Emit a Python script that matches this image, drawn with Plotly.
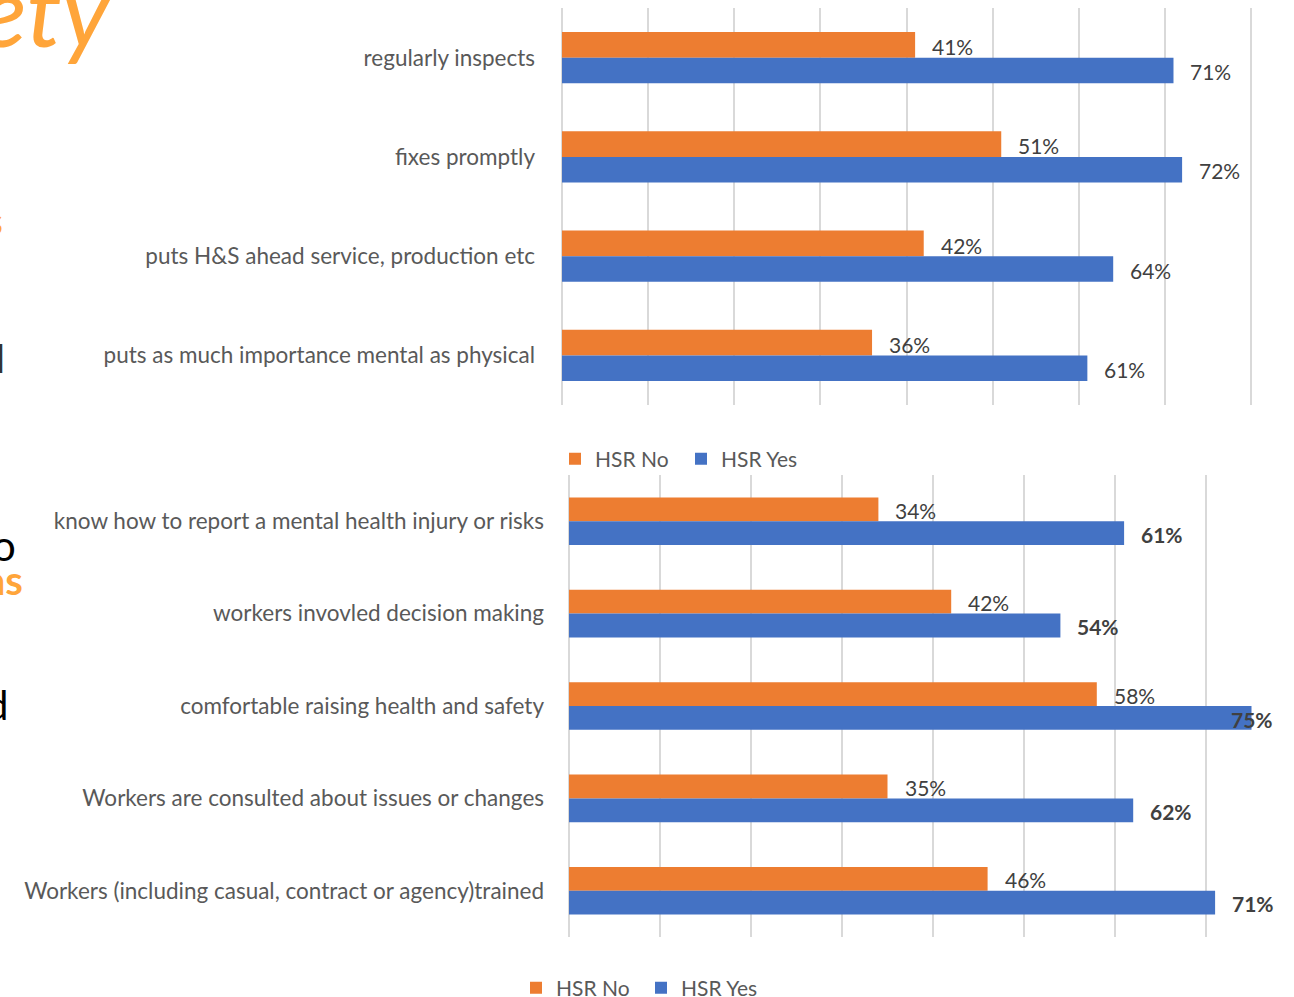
import plotly.graph_objects as go

# Survey results: share of workers agreeing, split by whether the workplace has an HSR
top_categories = [
    "regularly inspects",
    "fixes promptly",
    "puts H&S ahead service, production etc",
    "puts as much importance mental as physical",
]
top_hsr_no = [0.41, 0.51, 0.42, 0.36]
top_hsr_yes = [0.71, 0.72, 0.64, 0.61]

bottom_categories = [
    "know how to report a mental health injury or risks",
    "workers invovled decision making",
    "comfortable raising health and safety",
    "Workers are consulted about issues or changes",
    "Workers (including casual, contract or agency)trained",
]
bottom_hsr_no = [0.34, 0.42, 0.58, 0.35, 0.46]
bottom_hsr_yes = [0.61, 0.54, 0.75, 0.62, 0.71]

series_names = ["HSR No", "HSR Yes"]

W, H = 1294, 997
ORANGE = "#ED7D31"
BLUE = "#4472C4"
GRID = "#D9D9D9"
LABEL = "#595959"
VALUE = "#404040"
FONT = "Lato, Carlito, Calibri, sans-serif"

TOP_X0, TOP_PX = 562, 861.25      # left edge and pixels per 100% of the upper chart
BOT_X0, BOT_PX = 569, 910.0       # same for the lower chart


def py(px_from_top):
    """Pixel row measured from the top of the figure -> paper fraction."""
    return (H - px_from_top) / H


fig = go.Figure()

for cats, no_vals, yes_vals, xa, ya, lg in [
    (top_categories, top_hsr_no, top_hsr_yes, "x", "y", "legend"),
    (bottom_categories, bottom_hsr_no, bottom_hsr_yes, "x2", "y2", "legend2"),
]:
    for name, vals, col in [(series_names[0], no_vals, ORANGE), (series_names[1], yes_vals, BLUE)]:
        fig.add_trace(go.Bar(
            y=cats, x=vals, name=name, orientation="h",
            marker=dict(color=col, line=dict(width=0)),
            xaxis=xa, yaxis=ya, legend=lg, hoverinfo="skip",
        ))

annotations = []

# value labels next to the bar ends
def add_value_labels(cats, vals, xref, yref, yshift, bold, x0_px, px_per_unit):
    for c, v in zip(cats, vals):
        end_px = x0_px + v * px_per_unit
        fits = end_px + 15 + 42 <= W
        annotations.append(dict(
            x=v, y=c, xref=xref, yref=yref,
            text=f"<b>{round(v * 100)}%</b>" if bold else f"{round(v * 100)}%",
            showarrow=False,
            xanchor="left" if fits else "center",
            xshift=15 if fits else 0,
            yshift=yshift,
            font=dict(family=FONT, size=21, color=VALUE),
        ))

add_value_labels(top_categories, top_hsr_no, "x", "y", 11, False, TOP_X0, TOP_PX)
add_value_labels(top_categories, top_hsr_yes, "x", "y", -14, False, TOP_X0, TOP_PX)
add_value_labels(bottom_categories, bottom_hsr_no, "x2", "y2", 11, False, BOT_X0, BOT_PX)
add_value_labels(bottom_categories, bottom_hsr_yes, "x2", "y2", -13, True, BOT_X0, BOT_PX)

# slide text running in from the left edge
def edge_text(text, right_px, cy_px, size, color, weight="normal", style="normal"):
    annotations.append(dict(
        x=right_px / W, y=py(cy_px), xref="paper", yref="paper",
        text=text, showarrow=False, xanchor="right", yanchor="middle",
        font=dict(family=FONT, size=size, color=color, weight=weight, style=style),
    ))

edge_text("ety", 114, 8, 100, "#FFA53A", style="italic")
edge_text("s", 5, 220, 38, "#FFA53A", weight="bold")
edge_text("l", 7, 358, 38, "#333333")
edge_text("o", 18, 545, 42, "#000000")
edge_text("as", 25, 580, 40, "#FFA53A", weight="bold")
edge_text("d", 10, 705, 40, "#000000")

axis_common = dict(
    showticklabels=False, showgrid=True, gridcolor=GRID, gridwidth=1.5,
    zeroline=True, zerolinecolor=GRID, zerolinewidth=1.5,
    showline=False, ticks="", dtick=0.1, fixedrange=True,
)
yaxis_common = dict(
    autorange="reversed", showgrid=False, zeroline=False, showline=False,
    ticks="", tickfont=dict(family=FONT, size=22.5, color=LABEL), fixedrange=True,
)

top_max = (1253 - TOP_X0) / TOP_PX
bot_max = (W - BOT_X0) / BOT_PX

fig.update_layout(
    width=W, height=H,
    margin=dict(l=0, r=0, t=0, b=0, autoexpand=False),
    paper_bgcolor="white", plot_bgcolor="white",
    barmode="group", bargap=0.485, bargroupgap=0,
    font=dict(family=FONT, color=LABEL),
    xaxis=dict(domain=[TOP_X0 / W, 1253 / W], range=[0, top_max], anchor="y", **axis_common),
    yaxis=dict(domain=[py(405), py(8)], anchor="x", ticklabelstandoff=26, **yaxis_common),
    xaxis2=dict(domain=[BOT_X0 / W, 1.0], range=[0, bot_max], anchor="y2", **axis_common),
    yaxis2=dict(domain=[py(937), py(475)], anchor="x2", ticklabelstandoff=24, **yaxis_common),
    legend=dict(
        orientation="h", x=555 / W, xanchor="left", y=py(459), yanchor="middle",
        entrywidth=81, entrywidthmode="pixels",
        font=dict(family=FONT, size=21, color=LABEL), bgcolor="rgba(0,0,0,0)",
    ),
    legend2=dict(
        orientation="h", x=516 / W, xanchor="left", y=py(988), yanchor="middle",
        entrywidth=80, entrywidthmode="pixels",
        font=dict(family=FONT, size=21, color=LABEL), bgcolor="rgba(0,0,0,0)",
    ),
    annotations=annotations,
    showlegend=True,
)

fig.write_html("out.html")
